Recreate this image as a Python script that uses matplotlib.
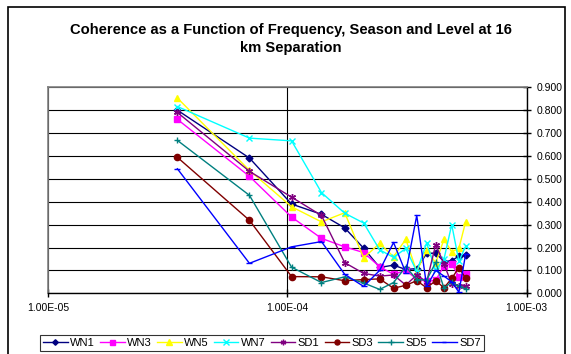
import matplotlib
matplotlib.use("Agg")
import matplotlib.pyplot as plt
import matplotlib.ticker as mticker
from matplotlib.patches import Rectangle

plt.rcParams['font.family'] = ['Liberation Sans', 'DejaVu Sans']

# frequency index k -> frequency k/28800 Hz
harmonics = list(range(1, 17))
base_period = 28800.0
freqs = [k / base_period for k in harmonics]

series_names = ["WN1", "WN3", "WN5", "WN7", "SD1", "SD3", "SD5", "SD7"]

wn1 = [0.800, 0.591, 0.390, 0.345, 0.286, 0.197, 0.113, 0.123, 0.104, 0.108, 0.174, 0.176, 0.138, 0.143, 0.162, 0.167]
wn3 = [0.760, 0.511, 0.333, 0.240, 0.203, 0.178, 0.116, 0.083, 0.100, 0.062, 0.052, 0.057, 0.120, 0.130, 0.072, 0.084]
wn5 = [0.853, 0.537, 0.378, 0.312, 0.352, 0.155, 0.218, 0.160, 0.236, 0.095, 0.190, 0.133, 0.236, 0.181, 0.196, 0.312]
wn7 = [0.816, 0.678, 0.666, 0.440, 0.350, 0.307, 0.190, 0.157, 0.196, 0.095, 0.220, 0.100, 0.150, 0.300, 0.140, 0.205]
sd1 = [0.790, 0.533, 0.420, 0.340, 0.134, 0.087, 0.075, 0.080, 0.036, 0.080, 0.050, 0.213, 0.128, 0.040, 0.033, 0.030]
sd3 = [0.594, 0.319, 0.073, 0.072, 0.055, 0.060, 0.063, 0.022, 0.035, 0.055, 0.024, 0.055, 0.024, 0.065, 0.112, 0.066]
sd5 = [0.668, 0.428, 0.114, 0.047, 0.072, 0.045, 0.017, 0.047, 0.116, 0.060, 0.058, 0.135, 0.022, 0.050, 0.030, 0.020]
sd7 = [0.544, 0.131, 0.203, 0.226, 0.083, 0.030, 0.100, 0.222, 0.090, 0.340, 0.030, 0.100, 0.075, 0.050, 0.005, 0.170]

data = [wn1, wn3, wn5, wn7, sd1, sd3, sd5, sd7]
colors = ["#000080", "#FF00FF", "#FFFF00", "#00FFFF", "#800080", "#800000", "#008080", "#0000FF"]
markers = ["D", "s", "^", "x", (6, 2, 0), "o", "+", "_"]
msizes = [3.5, 4.5, 5, 5, 5, 4.5, 5, 4]

y_ticks = [0.0, 0.1, 0.2, 0.3, 0.4, 0.5, 0.6, 0.7, 0.8, 0.9]

fig = plt.figure(figsize=(5.71, 3.54), dpi=100)
W, H = 571.0, 354.0
ax = fig.add_axes([48 / W, 1 - 293.3 / H, (526.7 - 48) / W, (293.3 - 87.3) / H])

for name, vals, c, m, ms in zip(series_names, data, colors, markers, msizes):
    ax.plot(freqs, vals, color=c, marker=m, markersize=ms, linewidth=1.0,
            markeredgewidth=1.0, label=name, zorder=3)

ax.set_xscale('log')
ax.set_xlim(1e-5, 1e-3)
ax.set_ylim(0, 0.9)
ax.xaxis.set_major_locator(mticker.LogLocator(base=10, numticks=5))
ax.xaxis.set_minor_locator(mticker.NullLocator())
ax.xaxis.set_major_formatter(mticker.FuncFormatter(lambda v, p: "%.2E" % v))
ax.set_yticks(y_ticks)
ax.yaxis.set_major_formatter(mticker.FormatStrFormatter('%.3f'))
ax.yaxis.tick_right()
ax.tick_params(axis='y', direction='inout', length=6, width=1, labelsize=7.5, pad=4)
ax.tick_params(axis='x', direction='inout', length=6, width=1, labelsize=7.5, pad=4)

ax.grid(True, axis='y', color='black', linewidth=0.8, zorder=1)
ax.grid(True, axis='x', which='major', color='black', linewidth=0.8, zorder=1)

for s in ['left', 'top']:
    ax.spines[s].set_color('#808080')
    ax.spines[s].set_linewidth(1.2)
for s in ['right', 'bottom']:
    ax.spines[s].set_color('black')
    ax.spines[s].set_linewidth(1.0)

fig.text(291 / W, 1 - 30 / H, "Coherence as a Function of Frequency, Season and Level at 16",
         ha='center', va='center', fontsize=10.6, fontweight='bold')
fig.text(291 / W, 1 - 48 / H, "km Separation",
         ha='center', va='center', fontsize=10.6, fontweight='bold')

leg = fig.legend(loc='center', bbox_to_anchor=(262 / W, 1 - 343 / H), ncol=8,
                 fontsize=8, frameon=True, fancybox=False, handlelength=2.2,
                 columnspacing=0.45, handletextpad=0.25, borderpad=0.3,
                 borderaxespad=0, markerscale=0.8)
leg.get_frame().set_edgecolor('black')
leg.get_frame().set_linewidth(0.8)

border = Rectangle((8 / W, -0.05), (565 - 8) / W, 1 - 7 / H + 0.05,
                   transform=fig.transFigure, fill=False, edgecolor='black', linewidth=1.2)
fig.patches.append(border)

fig.savefig("out.png", dpi=100)
